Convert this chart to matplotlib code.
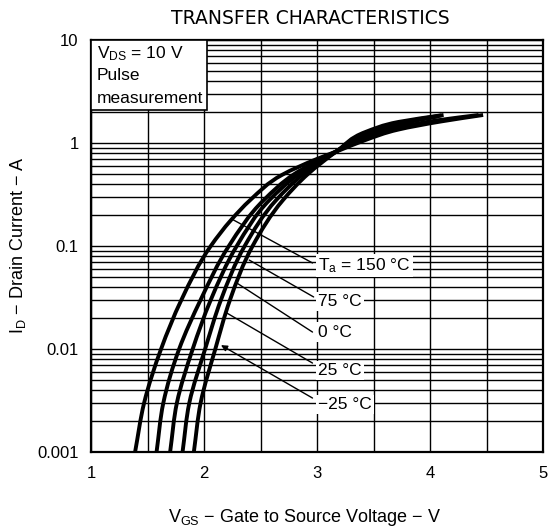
import numpy as np
import matplotlib.pyplot as plt
from matplotlib.patches import Rectangle, PathPatch
from matplotlib.path import Path
from matplotlib.ticker import LogLocator, NullFormatter, MultipleLocator

plt.rcParams['font.family'] = ['Liberation Sans', 'DejaVu Sans']
plt.rcParams['mathtext.fontset'] = 'custom'
plt.rcParams['mathtext.rm'] = 'Liberation Sans'

# curves: V_GS (V) and I_D (A)
vgs_150 = [1.39, 1.47, 1.62, 1.80, 2.06, 2.24, 2.41, 2.69, 3.00, 3.20, 3.43, 3.72, 4.10, 4.47]
id_150 = [0.001, 0.003, 0.01, 0.03, 0.1, 0.179, 0.28, 0.49, 0.70, 0.85, 1.07, 1.35, 1.62, 1.87]
vgs_75 = [1.58, 1.64, 1.78, 1.97, 2.22, 2.53, 2.80, 3.18, 3.43, 3.72, 4.10, 4.43]
id_75 = [0.001, 0.003, 0.01, 0.03, 0.1, 0.28, 0.5, 0.84, 1.15, 1.42, 1.68, 1.87]
vgs_25 = [1.70, 1.76, 1.90, 2.06, 2.29, 2.58, 2.84, 3.18, 3.43, 3.72, 4.08]
id_25 = [0.001, 0.003, 0.01, 0.03, 0.1, 0.28, 0.5, 0.84, 1.22, 1.52, 1.82]
vgs_0 = [1.81, 1.87, 2.01, 2.15, 2.36, 2.64, 2.88, 3.18, 3.43, 3.72, 4.10]
id_0 = [0.001, 0.003, 0.01, 0.03, 0.1, 0.28, 0.5, 0.84, 1.25, 1.56, 1.85]
vgs_m25 = [1.91, 1.97, 2.10, 2.23, 2.43, 2.70, 2.92, 3.18, 3.43, 3.72, 4.12]
id_m25 = [0.001, 0.003, 0.01, 0.03, 0.1, 0.28, 0.5, 0.84, 1.28, 1.60, 1.87]
curves = [(vgs_150, id_150), (vgs_75, id_75), (vgs_25, id_25), (vgs_0, id_0), (vgs_m25, id_m25)]

xticks = [1, 2, 3, 4, 5]
yticks = [0.001, 0.01, 0.1, 1, 10]
ytick_labels = ["0.001", "0.01", "0.1", "1", "10"]


def smooth_path(v, i):
    # smooth cubic line through the read points, V taken as a function of log(I)
    t = np.log10(i)
    x = np.asarray(v, float)
    h = np.diff(t)
    d = np.diff(x) / h
    m = np.empty_like(t)
    m[0], m[-1] = d[0], d[-1]
    for k in range(1, len(t) - 1):
        m[k] = (h[k] * d[k - 1] + h[k - 1] * d[k]) / (h[k - 1] + h[k])
    verts = [(x[0], t[0])]
    codes = [Path.MOVETO]
    for k in range(len(h)):
        verts += [(x[k] + m[k] * h[k] / 3, t[k] + h[k] / 3),
                  (x[k + 1] - m[k + 1] * h[k] / 3, t[k + 1] - h[k] / 3),
                  (x[k + 1], t[k + 1])]
        codes += [Path.CURVE4] * 3
    return Path([(a, 10 ** b) for a, b in verts], codes)


fig = plt.figure(figsize=(5.49, 5.31), dpi=100)
ax = fig.add_axes([0.1658, 0.1488, 0.8233, 0.7759])

ax.set_yscale("log")
ax.set_xlim(1, 5)
ax.set_ylim(0.001, 10)

for v, i in curves:
    ax.add_patch(PathPatch(smooth_path(v, i), fill=False, edgecolor="black", lw=2.8,
                           capstyle="butt", joinstyle="round", zorder=3))

ax.set_xticks(xticks)
ax.set_xticklabels([str(t) for t in xticks])
ax.xaxis.set_minor_locator(MultipleLocator(0.5))
ax.set_yticks(yticks)
ax.set_yticklabels(ytick_labels)
ax.yaxis.set_minor_locator(LogLocator(base=10, subs=np.arange(2, 10)))
ax.yaxis.set_minor_formatter(NullFormatter())
ax.tick_params(which="both", length=0, labelsize=12)
ax.tick_params(axis="y", pad=9)
ax.tick_params(axis="x", pad=10)
ax.grid(which="both", color="black", lw=1.0)
for s in ax.spines.values():
    s.set_linewidth(1.6)

# condition box in the top-left corner
ax.add_patch(Rectangle((0, 0.83), 0.257, 0.17, transform=ax.transAxes,
                       facecolor="white", edgecolor="black", lw=1.2, zorder=4))
ax.text(0.013, 0.967, "$\\mathregular{V_{DS}}$ = 10 V", transform=ax.transAxes,
        fontsize=12.5, va="center", zorder=5)
ax.text(0.013, 0.915, "Pulse", transform=ax.transAxes, fontsize=12.5, va="center", zorder=5)
ax.text(0.013, 0.857, "measurement", transform=ax.transAxes, fontsize=12.5, va="center", zorder=5)

# temperature labels with leader lines
labels = ["$\\mathregular{T_a}$ = 150 °C", "75 °C", "0 °C", "25 °C", "\u221225 °C"]
tips = [(2.26, 0.179), (2.40, 0.073), (2.29, 0.0437), (2.20, 0.0224), (2.15, 0.0109)]
ends = [(2.96, 0.0684), (2.97, 0.032), (2.96, 0.0146), (2.96, 0.0073), (2.96, 0.00334)]
text_y = [0.065, 0.029, 0.0146, 0.0062, 0.0029]
for lab, tip, end, ty in zip(labels, tips, ends, text_y):
    style = "-|>" if lab.startswith("\u2212") else "-"
    ax.annotate("", xy=tip, xytext=end,
                arrowprops=dict(arrowstyle=style, color="black", lw=1.0,
                                mutation_scale=9, shrinkA=0, shrinkB=0), zorder=4)
    ax.text(3.01, ty, lab, fontsize=12.5, va="center", ha="left", zorder=5,
            bbox=dict(facecolor="white", edgecolor="none", pad=1.5))

fig.text(0.566, 0.966, "TRANSFER CHARACTERISTICS", fontsize=13.5, ha="center", va="center",
         family="DejaVu Sans")
fig.text(0.554, 0.026, "$\\mathregular{V_{GS}}$ \u2212 Gate to Source Voltage \u2212 V",
         fontsize=13, ha="center", va="center")
fig.text(0.033, 0.539, "$\\mathregular{I_D}$ \u2212 Drain Current \u2212 A",
         fontsize=13, ha="center", va="center", rotation=90)

fig.savefig("out.png", dpi=100)
